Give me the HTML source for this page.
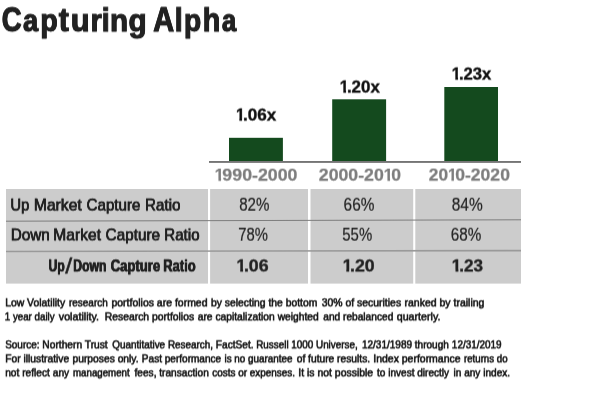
<!DOCTYPE html>
<html lang="en">
<head>
<meta charset="utf-8">
<title>Capturing Alpha</title>
<style>
html,body{margin:0;padding:0;background:#ffffff;}
body{width:600px;height:402px;position:relative;overflow:hidden;font-family:"Liberation Sans",sans-serif;}
#bg{position:absolute;left:0;top:0;width:600px;height:402px;display:block;}
.w{position:absolute;will-change:transform;transform-origin:0 0;}
.o{display:inline-block;}
.t{position:absolute;left:0;top:0;white-space:nowrap;line-height:1;margin:0;padding:0;transform-origin:0 0;}
</style>
</head>
<body>
<svg id="bg" width="600" height="402" viewBox="0 0 600 402">
<rect x="0" y="0" width="600" height="402" fill="#ffffff"/>
<rect x="229" y="137.8" width="53.9" height="24" fill="#144a1e"/>
<rect x="332.2" y="99.3" width="53.9" height="62.5" fill="#144a1e"/>
<rect x="444.3" y="87" width="53.7" height="75" fill="#144a1e"/>
<rect x="209" y="161" width="312" height="1.9" fill="#757575"/>
<rect x="6" y="189" width="515" height="94.6" fill="#cccccc"/>
<rect x="208" y="189" width="2.1" height="95" fill="#ffffff"/>
<rect x="308" y="189" width="2.5" height="95" fill="#ffffff"/>
<rect x="413.2" y="189" width="2.1" height="95" fill="#ffffff"/>
<line x1="6" y1="221.2" x2="521" y2="219.8" stroke="#7d7d7d" stroke-width="1"/>
<line x1="6" y1="251.5" x2="521" y2="250.6" stroke="#9a9a9a" stroke-width="1.6"/>
</svg>
<div id="title">
<div class="w" style="left:1px;top:1px;width:27px;height:44px;transform:translateY(0.30px) rotate(0.002deg);"><div class="t" style="font-size:35px;font-weight:700;color:#222222;-webkit-text-stroke:0.9px #222222;text-shadow:0.35px 0 0 #222222,-0.35px 0 0 #222222;transform:translateX(0.70px) scaleX(0.7883);">C</div></div>
<div class="w" style="left:23px;top:4px;width:22px;height:40px;transform:translateY(0.30px) rotate(0.002deg);"><div class="t" style="font-size:32px;font-weight:700;color:#222222;-webkit-text-stroke:0.9px #222222;text-shadow:0.35px 0 0 #222222,-0.35px 0 0 #222222;transform:translateX(0.08px) scaleX(0.8466);">a</div></div>
<div class="w" style="left:40px;top:4px;width:24px;height:40px;transform:translateY(0.30px) rotate(0.002deg);"><div class="t" style="font-size:32px;font-weight:700;color:#222222;-webkit-text-stroke:0.9px #222222;text-shadow:0.35px 0 0 #222222,-0.35px 0 0 #222222;transform:translateX(0.33px) scaleX(0.8914);">p</div></div>
<div class="w" style="left:58px;top:2px;width:17px;height:43px;transform:translateY(0.30px) rotate(0.002deg);"><div class="t" style="font-size:34px;font-weight:700;color:#222222;-webkit-text-stroke:0.9px #222222;text-shadow:0.35px 0 0 #222222,-0.35px 0 0 #222222;transform:translateX(0.84px) scaleX(0.8849);">t</div></div>
<div class="w" style="left:70px;top:4px;width:26px;height:40px;transform:translateY(0.30px) rotate(0.002deg);"><div class="t" style="font-size:32px;font-weight:700;color:#222222;-webkit-text-stroke:0.9px #222222;text-shadow:0.35px 0 0 #222222,-0.35px 0 0 #222222;transform:translateX(0.85px) scaleX(0.9676);">u</div></div>
<div class="w" style="left:90px;top:4px;width:18px;height:40px;transform:translateY(0.30px) rotate(0.002deg);"><div class="t" style="font-size:32px;font-weight:700;color:#222222;-webkit-text-stroke:0.9px #222222;text-shadow:0.35px 0 0 #222222,-0.35px 0 0 #222222;transform:translateX(0.62px) scaleX(0.8988);">r</div></div>
<div class="w" style="left:101px;top:3px;width:15px;height:42px;transform:translateY(0.30px) rotate(0.002deg);"><div class="t" style="font-size:33px;font-weight:700;color:#222222;-webkit-text-stroke:0.9px #222222;transform:translateX(0.49px) scaleX(0.9212);">i</div></div>
<div class="w" style="left:109px;top:4px;width:26px;height:40px;transform:translateY(0.30px) rotate(0.002deg);"><div class="t" style="font-size:32px;font-weight:700;color:#222222;-webkit-text-stroke:0.9px #222222;text-shadow:0.35px 0 0 #222222,-0.35px 0 0 #222222;transform:translateX(0.99px) scaleX(0.9265);">n</div></div>
<div class="w" style="left:128px;top:4px;width:25px;height:40px;transform:translateY(0.30px) rotate(0.002deg);"><div class="t" style="font-size:32px;font-weight:700;color:#222222;-webkit-text-stroke:0.9px #222222;text-shadow:0.35px 0 0 #222222,-0.35px 0 0 #222222;transform:translateX(0.52px) scaleX(0.9325);">g</div></div>
<div class="w" style="left:153px;top:1px;width:28px;height:44px;transform:translateY(0.30px) rotate(0.002deg);"><div class="t" style="font-size:35px;font-weight:700;color:#222222;-webkit-text-stroke:0.9px #222222;text-shadow:0.35px 0 0 #222222,-0.35px 0 0 #222222;transform:translateX(0.14px) scaleX(0.8293);">A</div></div>
<div class="w" style="left:174px;top:3px;width:15px;height:42px;transform:translateY(0.30px) rotate(0.002deg);"><div class="t" style="font-size:33px;font-weight:700;color:#222222;-webkit-text-stroke:0.9px #222222;transform:translateX(0.49px) scaleX(0.9212);">l</div></div>
<div class="w" style="left:183px;top:4px;width:25px;height:40px;transform:translateY(0.30px) rotate(0.002deg);"><div class="t" style="font-size:32px;font-weight:700;color:#222222;-webkit-text-stroke:0.9px #222222;text-shadow:0.35px 0 0 #222222,-0.35px 0 0 #222222;transform:translateX(0.95px) scaleX(0.8801);">p</div></div>
<div class="w" style="left:202px;top:3px;width:25px;height:42px;transform:translateY(0.30px) rotate(0.002deg);"><div class="t" style="font-size:33px;font-weight:700;color:#222222;-webkit-text-stroke:0.9px #222222;text-shadow:0.35px 0 0 #222222,-0.35px 0 0 #222222;transform:translateX(0.69px) scaleX(0.8732);">h</div></div>
<div class="w" style="left:221px;top:4px;width:22px;height:40px;transform:translateY(0.30px) rotate(0.002deg);"><div class="t" style="font-size:32px;font-weight:700;color:#222222;-webkit-text-stroke:0.9px #222222;text-shadow:0.35px 0 0 #222222,-0.35px 0 0 #222222;transform:translateX(0.89px) scaleX(0.8038);">a</div></div>
</div>
<div id="chart">
<div class="w" style="left:235px;top:106px;width:16px;height:21px;transform:translateY(0.55px) rotate(0.002deg);"><div class="t" style="font-size:16.5px;font-weight:700;color:#111111;-webkit-text-stroke:0.38px #111111;transform:translateX(0.89px) scaleX(0.9689);"><span class="o" style="clip-path:polygon(-1px -2px,110% -2px,110% 12px,calc(0.3706em + 0.24px) 12px,calc(0.3706em + 0.24px) 16px,calc(0.2334em - 0.24px) 16px,calc(0.2334em - 0.24px) 12px,-1px 12px);">1</span></div></div>
<div class="w" style="left:242px;top:106px;width:41px;height:21px;transform:translateY(0.55px) rotate(0.002deg);"><div class="t" style="font-size:16.5px;font-weight:700;color:#111111;-webkit-text-stroke:0.38px #111111;transform:translateX(0.92px) scaleX(1.0362);">.06x</div></div>
<div class="w" style="left:339px;top:78px;width:16px;height:21px;transform:translateY(0.55px) rotate(0.002deg);"><div class="t" style="font-size:16.5px;font-weight:700;color:#111111;-webkit-text-stroke:0.38px #111111;transform:translateX(0.83px) scaleX(0.9782);"><span class="o" style="clip-path:polygon(-1px -2px,110% -2px,110% 12px,calc(0.3706em + 0.24px) 12px,calc(0.3706em + 0.24px) 16px,calc(0.2334em - 0.24px) 16px,calc(0.2334em - 0.24px) 12px,-1px 12px);">1</span></div></div>
<div class="w" style="left:346px;top:78px;width:40px;height:21px;transform:translateY(0.55px) rotate(0.002deg);"><div class="t" style="font-size:16.5px;font-weight:700;color:#111111;-webkit-text-stroke:0.38px #111111;transform:translateX(0.92px) scaleX(1.0241);">.20x</div></div>
<div class="w" style="left:451px;top:65px;width:16px;height:21px;transform:translateY(0.55px) rotate(0.002deg);"><div class="t" style="font-size:16.5px;font-weight:700;color:#111111;-webkit-text-stroke:0.38px #111111;transform:translateX(0.83px) scaleX(0.9782);"><span class="o" style="clip-path:polygon(-1px -2px,110% -2px,110% 12px,calc(0.3706em + 0.24px) 12px,calc(0.3706em + 0.24px) 16px,calc(0.2334em - 0.24px) 16px,calc(0.2334em - 0.24px) 12px,-1px 12px);">1</span></div></div>
<div class="w" style="left:458px;top:65px;width:40px;height:21px;transform:translateY(0.55px) rotate(0.002deg);"><div class="t" style="font-size:16.5px;font-weight:700;color:#111111;-webkit-text-stroke:0.38px #111111;transform:translateX(0.92px) scaleX(1.0103);">.23x</div></div>
<div class="w" style="left:214px;top:166px;width:16px;height:21px;transform:translateY(0.65px) rotate(0.002deg);"><div class="t" style="font-size:16.5px;font-weight:700;color:#7e7e7e;-webkit-text-stroke:0.25px #7e7e7e;transform:translateX(0.74px) scaleX(1.0025);"><span class="o" style="clip-path:polygon(-1px -2px,110% -2px,110% 12px,calc(0.3706em + 0.17px) 12px,calc(0.3706em + 0.17px) 16px,calc(0.2334em - 0.17px) 16px,calc(0.2334em - 0.17px) 12px,-1px 12px);">1</span></div></div>
<div class="w" style="left:222px;top:166px;width:82px;height:21px;transform:translateY(0.65px) rotate(0.002deg);"><div class="t" style="font-size:16.5px;font-weight:700;color:#7e7e7e;-webkit-text-stroke:0.25px #7e7e7e;transform:translateX(0.37px) scaleX(1.0773);">990-2000</div></div>
<div class="w" style="left:318px;top:166px;width:72px;height:21px;transform:translateY(0.65px) rotate(0.002deg);"><div class="t" style="font-size:16.5px;font-weight:700;color:#7e7e7e;-webkit-text-stroke:0.25px #7e7e7e;transform:translateX(0.83px) scaleX(1.0730);">2000-20</div></div>
<div class="w" style="left:383px;top:166px;width:16px;height:21px;transform:translateY(0.65px) rotate(0.002deg);"><div class="t" style="font-size:16.5px;font-weight:700;color:#7e7e7e;-webkit-text-stroke:0.25px #7e7e7e;transform:translateX(0.74px) scaleX(1.0025);"><span class="o" style="clip-path:polygon(-1px -2px,110% -2px,110% 12px,calc(0.3706em + 0.17px) 12px,calc(0.3706em + 0.17px) 16px,calc(0.2334em - 0.17px) 16px,calc(0.2334em - 0.17px) 12px,-1px 12px);">1</span></div></div>
<div class="w" style="left:391px;top:166px;width:17px;height:21px;transform:translateY(0.65px) rotate(0.002deg);"><div class="t" style="font-size:16.5px;font-weight:700;color:#7e7e7e;-webkit-text-stroke:0.25px #7e7e7e;transform:translateX(0.34px) scaleX(1.0621);">0</div></div>
<div class="w" style="left:428px;top:166px;width:27px;height:21px;transform:translateY(0.55px) rotate(0.002deg);"><div class="t" style="font-size:16.5px;font-weight:700;color:#7e7e7e;-webkit-text-stroke:0.25px #7e7e7e;transform:translateX(0.83px) scaleX(1.0477);">20</div></div>
<div class="w" style="left:447px;top:166px;width:16px;height:21px;transform:translateY(0.55px) rotate(0.002deg);"><div class="t" style="font-size:16.5px;font-weight:700;color:#7e7e7e;-webkit-text-stroke:0.25px #7e7e7e;transform:translateX(0.88px) scaleX(0.9643);"><span class="o" style="clip-path:polygon(-1px -2px,110% -2px,110% 12px,calc(0.3706em + 0.17px) 12px,calc(0.3706em + 0.17px) 16px,calc(0.2334em - 0.17px) 16px,calc(0.2334em - 0.17px) 12px,-1px 12px);">1</span></div></div>
<div class="w" style="left:455px;top:166px;width:61px;height:21px;transform:translateY(0.55px) rotate(0.002deg);"><div class="t" style="font-size:16.5px;font-weight:700;color:#7e7e7e;-webkit-text-stroke:0.25px #7e7e7e;transform:translateX(0.21px) scaleX(1.0645);">0-2020</div></div>
</div>
<div id="table">
<div class="w" style="left:10px;top:196px;width:26px;height:22px;transform:translateY(0.60px) rotate(0.002deg);"><div class="t" style="font-size:17px;font-weight:400;color:#222222;-webkit-text-stroke:0.5px #222222;text-shadow:0.15px 0 0 #222222,-0.15px 0 0 #222222;transform:translateX(0.47px) scaleX(0.8673);">Up</div></div>
<div class="w" style="left:33px;top:196px;width:55px;height:22px;transform:translateY(0.60px) rotate(0.002deg);"><div class="t" style="font-size:17px;font-weight:400;color:#222222;-webkit-text-stroke:0.5px #222222;text-shadow:0.15px 0 0 #222222,-0.15px 0 0 #222222;transform:translateX(0.85px) scaleX(0.9217);">Market</div></div>
<div class="w" style="left:86px;top:196px;width:61px;height:22px;transform:translateY(0.60px) rotate(0.002deg);"><div class="t" style="font-size:17px;font-weight:400;color:#222222;-webkit-text-stroke:0.5px #222222;text-shadow:0.15px 0 0 #222222,-0.15px 0 0 #222222;transform:translateX(0.61px) scaleX(0.8893);">Capture</div></div>
<div class="w" style="left:144px;top:196px;width:43px;height:22px;transform:translateY(0.60px) rotate(0.002deg);"><div class="t" style="font-size:17px;font-weight:400;color:#222222;-webkit-text-stroke:0.5px #222222;text-shadow:0.15px 0 0 #222222,-0.15px 0 0 #222222;transform:translateX(0.97px) scaleX(0.8949);">Ratio</div></div>
<div class="w" style="left:239px;top:196px;width:37px;height:22px;transform:translateY(0.70px) rotate(0.002deg);"><div class="t" style="font-size:17.5px;font-weight:400;color:#222222;-webkit-text-stroke:0.2px #222222;transform:translateX(0.22px) scaleX(0.8631);">82%</div></div>
<div class="w" style="left:343px;top:196px;width:38px;height:22px;transform:translateY(0.70px) rotate(0.002deg);"><div class="t" style="font-size:17.5px;font-weight:400;color:#222222;-webkit-text-stroke:0.2px #222222;transform:translateX(0.60px) scaleX(0.8790);">66%</div></div>
<div class="w" style="left:451px;top:196px;width:38px;height:22px;transform:translateY(0.70px) rotate(0.002deg);"><div class="t" style="font-size:17.5px;font-weight:400;color:#222222;-webkit-text-stroke:0.2px #222222;transform:translateX(0.72px) scaleX(0.8837);">84%</div></div>
<div class="w" style="left:10px;top:226px;width:46px;height:22px;transform:translateY(0.45px) rotate(0.002deg);"><div class="t" style="font-size:17px;font-weight:400;color:#222222;-webkit-text-stroke:0.5px #222222;text-shadow:0.15px 0 0 #222222,-0.15px 0 0 #222222;transform:translateX(0.77px) scaleX(0.8977);">Down</div></div>
<div class="w" style="left:53px;top:226px;width:55px;height:22px;transform:translateY(0.45px) rotate(0.002deg);"><div class="t" style="font-size:17px;font-weight:400;color:#222222;-webkit-text-stroke:0.5px #222222;text-shadow:0.15px 0 0 #222222,-0.15px 0 0 #222222;transform:translateX(0.16px) scaleX(0.9217);">Market</div></div>
<div class="w" style="left:105px;top:226px;width:62px;height:22px;transform:translateY(0.45px) rotate(0.002deg);"><div class="t" style="font-size:17px;font-weight:400;color:#222222;-webkit-text-stroke:0.5px #222222;text-shadow:0.15px 0 0 #222222,-0.15px 0 0 #222222;transform:translateX(0.61px) scaleX(0.9013);">Capture</div></div>
<div class="w" style="left:164px;top:226px;width:42px;height:22px;transform:translateY(0.45px) rotate(0.002deg);"><div class="t" style="font-size:17px;font-weight:400;color:#222222;-webkit-text-stroke:0.5px #222222;text-shadow:0.15px 0 0 #222222,-0.15px 0 0 #222222;transform:translateX(0.17px) scaleX(0.8935);">Ratio</div></div>
<div class="w" style="left:238px;top:226px;width:36px;height:22px;transform:translateY(0.70px) rotate(0.002deg);"><div class="t" style="font-size:17.5px;font-weight:400;color:#222222;-webkit-text-stroke:0.2px #222222;transform:translateX(0.30px) scaleX(0.8457);">78%</div></div>
<div class="w" style="left:342px;top:226px;width:37px;height:22px;transform:translateY(0.70px) rotate(0.002deg);"><div class="t" style="font-size:17.5px;font-weight:400;color:#222222;-webkit-text-stroke:0.2px #222222;transform:translateX(0.33px) scaleX(0.8520);">55%</div></div>
<div class="w" style="left:450px;top:226px;width:38px;height:22px;transform:translateY(0.70px) rotate(0.002deg);"><div class="t" style="font-size:17.5px;font-weight:400;color:#222222;-webkit-text-stroke:0.2px #222222;transform:translateX(0.79px) scaleX(0.8711);">68%</div></div>
<div class="w" style="left:48px;top:257px;width:23px;height:22px;transform:translateY(0.45px) rotate(0.002deg);"><div class="t" style="font-size:17px;font-weight:700;color:#222222;-webkit-text-stroke:0.5px #222222;text-shadow:0.25px 0 0 #222222,-0.25px 0 0 #222222;transform:translateX(0.61px) scaleX(0.7135);">Up</div></div>
<div class="w" style="left:65px;top:255px;width:14px;height:28px;transform:translateY(0.50px) rotate(0.002deg);"><div class="t" style="font-size:22px;font-weight:400;color:#222222;-webkit-text-stroke:0.5px #222222;transform:translateX(0.28px) scaleX(1.1342);">/</div></div>
<div class="w" style="left:73px;top:257px;width:40px;height:22px;transform:translateY(0.45px) rotate(0.002deg);"><div class="t" style="font-size:17px;font-weight:700;color:#222222;-webkit-text-stroke:0.5px #222222;text-shadow:0.25px 0 0 #222222,-0.25px 0 0 #222222;transform:translateX(0.26px) scaleX(0.7182);">Down</div></div>
<div class="w" style="left:110px;top:257px;width:57px;height:22px;transform:translateY(0.45px) rotate(0.002deg);"><div class="t" style="font-size:17px;font-weight:700;color:#222222;-webkit-text-stroke:0.5px #222222;text-shadow:0.25px 0 0 #222222,-0.25px 0 0 #222222;transform:translateX(0.64px) scaleX(0.7716);">Capture</div></div>
<div class="w" style="left:163px;top:257px;width:39px;height:22px;transform:translateY(0.45px) rotate(0.002deg);"><div class="t" style="font-size:17px;font-weight:700;color:#222222;-webkit-text-stroke:0.5px #222222;text-shadow:0.25px 0 0 #222222,-0.25px 0 0 #222222;transform:translateX(0.26px) scaleX(0.7624);">Ratio</div></div>
<div class="w" style="left:236px;top:257px;width:16px;height:22px;transform:translateY(0.45px) rotate(0.002deg);"><div class="t" style="font-size:17px;font-weight:700;color:#222222;-webkit-text-stroke:0.38px #222222;transform:translateX(0.53px) scaleX(0.9967);"><span class="o" style="clip-path:polygon(-1px -2px,110% -2px,110% 12px,calc(0.3706em + 0.24px) 12px,calc(0.3706em + 0.24px) 16px,calc(0.2334em - 0.24px) 16px,calc(0.2334em - 0.24px) 12px,-1px 12px);">1</span></div></div>
<div class="w" style="left:243px;top:257px;width:32px;height:22px;transform:translateY(0.45px) rotate(0.002deg);"><div class="t" style="font-size:17px;font-weight:700;color:#222222;-webkit-text-stroke:0.38px #222222;transform:translateX(0.92px) scaleX(1.0442);">.06</div></div>
<div class="w" style="left:342px;top:257px;width:17px;height:22px;transform:translateY(0.45px) rotate(0.002deg);"><div class="t" style="font-size:17px;font-weight:700;color:#222222;-webkit-text-stroke:0.38px #222222;transform:translateX(0.63px) scaleX(0.9967);"><span class="o" style="clip-path:polygon(-1px -2px,110% -2px,110% 12px,calc(0.3706em + 0.24px) 12px,calc(0.3706em + 0.24px) 16px,calc(0.2334em - 0.24px) 16px,calc(0.2334em - 0.24px) 12px,-1px 12px);">1</span></div></div>
<div class="w" style="left:350px;top:257px;width:31px;height:22px;transform:translateY(0.45px) rotate(0.002deg);"><div class="t" style="font-size:17px;font-weight:700;color:#222222;-webkit-text-stroke:0.38px #222222;transform:translateX(0.02px) scaleX(1.0419);">.20</div></div>
<div class="w" style="left:451px;top:257px;width:17px;height:22px;transform:translateY(0.45px) rotate(0.002deg);"><div class="t" style="font-size:17px;font-weight:700;color:#222222;-webkit-text-stroke:0.38px #222222;transform:translateX(0.83px) scaleX(0.9967);"><span class="o" style="clip-path:polygon(-1px -2px,110% -2px,110% 12px,calc(0.3706em + 0.24px) 12px,calc(0.3706em + 0.24px) 16px,calc(0.2334em - 0.24px) 16px,calc(0.2334em - 0.24px) 12px,-1px 12px);">1</span></div></div>
<div class="w" style="left:459px;top:257px;width:31px;height:22px;transform:translateY(0.45px) rotate(0.002deg);"><div class="t" style="font-size:17px;font-weight:700;color:#222222;-webkit-text-stroke:0.38px #222222;transform:translateX(0.33px) scaleX(1.0065);">.23</div></div>
</div>
<div id="notes">
<div class="w" style="left:5px;top:296px;width:67px;height:15px;transform:translateY(0.40px) rotate(0.002deg);"><div class="t" style="font-size:11.6px;font-weight:400;color:#111111;-webkit-text-stroke:0.6px #111111;transform:translateX(0.21px) scaleX(0.8943);">Low Volatility</div></div>
<div class="w" style="left:68px;top:296px;width:46px;height:15px;transform:translateY(0.40px) rotate(0.002deg);"><div class="t" style="font-size:11.6px;font-weight:400;color:#111111;-webkit-text-stroke:0.6px #111111;transform:translateX(0.98px) scaleX(0.8599);">research</div></div>
<div class="w" style="left:111px;top:296px;width:103px;height:15px;transform:translateY(0.40px) rotate(0.002deg);"><div class="t" style="font-size:11.6px;font-weight:400;color:#111111;-webkit-text-stroke:0.6px #111111;transform:translateX(0.48px) scaleX(0.9030);">portfolios are formed</div></div>
<div class="w" style="left:211px;top:296px;width:113px;height:15px;transform:translateY(0.40px) rotate(0.002deg);"><div class="t" style="font-size:11.6px;font-weight:400;color:#111111;-webkit-text-stroke:0.6px #111111;transform:translateX(0.03px) scaleX(0.8914);">by selecting the bottom</div></div>
<div class="w" style="left:321px;top:296px;width:87px;height:15px;transform:translateY(0.40px) rotate(0.002deg);"><div class="t" style="font-size:11.6px;font-weight:400;color:#111111;-webkit-text-stroke:0.6px #111111;transform:translateX(0.67px) scaleX(0.8998);">30% of securities</div></div>
<div class="w" style="left:404px;top:296px;width:87px;height:15px;transform:translateY(0.40px) rotate(0.002deg);"><div class="t" style="font-size:11.6px;font-weight:400;color:#111111;-webkit-text-stroke:0.6px #111111;transform:translateX(0.48px) scaleX(0.9055);">ranked by trailing</div></div>
<div class="w" style="left:4px;top:310px;width:57px;height:15px;transform:translateY(0.40px) rotate(0.002deg);"><div class="t" style="font-size:11.6px;font-weight:400;color:#111111;-webkit-text-stroke:0.6px #111111;transform:translateX(0.81px) scaleX(0.8395);">1 year daily</div></div>
<div class="w" style="left:58px;top:310px;width:48px;height:15px;transform:translateY(0.40px) rotate(0.002deg);"><div class="t" style="font-size:11.6px;font-weight:400;color:#111111;-webkit-text-stroke:0.6px #111111;transform:translateX(0.77px) scaleX(0.9250);">volatility.</div></div>
<div class="w" style="left:104px;top:310px;width:97px;height:15px;transform:translateY(0.40px) rotate(0.002deg);"><div class="t" style="font-size:11.6px;font-weight:400;color:#111111;-webkit-text-stroke:0.6px #111111;transform:translateX(0.71px) scaleX(0.8950);">Research portfolios</div></div>
<div class="w" style="left:197px;top:310px;width:128px;height:15px;transform:translateY(0.40px) rotate(0.002deg);"><div class="t" style="font-size:11.6px;font-weight:400;color:#111111;-webkit-text-stroke:0.6px #111111;transform:translateX(0.71px) scaleX(0.8860);">are capitalization weighted</div></div>
<div class="w" style="left:323px;top:310px;width:77px;height:15px;transform:translateY(0.40px) rotate(0.002deg);"><div class="t" style="font-size:11.6px;font-weight:400;color:#111111;-webkit-text-stroke:0.6px #111111;transform:translateX(0.25px) scaleX(0.8765);">and rebalanced</div></div>
<div class="w" style="left:396px;top:310px;width:51px;height:15px;transform:translateY(0.40px) rotate(0.002deg);"><div class="t" style="font-size:11.6px;font-weight:400;color:#111111;-webkit-text-stroke:0.6px #111111;transform:translateX(0.71px) scaleX(0.9201);">quarterly.</div></div>
<div class="w" style="left:5px;top:338px;width:41px;height:15px;transform:translateY(0.40px) rotate(0.002deg);"><div class="t" style="font-size:11.6px;font-weight:400;color:#111111;-webkit-text-stroke:0.6px #111111;transform:translateX(0.15px) scaleX(0.8620);">Source:</div></div>
<div class="w" style="left:42px;top:338px;width:72px;height:15px;transform:translateY(0.40px) rotate(0.002deg);"><div class="t" style="font-size:11.6px;font-weight:400;color:#111111;-webkit-text-stroke:0.6px #111111;transform:translateX(0.37px) scaleX(0.8816);">Northern Trust</div></div>
<div class="w" style="left:112px;top:338px;width:108px;height:15px;transform:translateY(0.40px) rotate(0.002deg);"><div class="t" style="font-size:11.6px;font-weight:400;color:#111111;-webkit-text-stroke:0.6px #111111;transform:translateX(0.21px) scaleX(0.8555);">Quantitative Research,</div></div>
<div class="w" style="left:215px;top:338px;width:45px;height:15px;transform:translateY(0.40px) rotate(0.002deg);"><div class="t" style="font-size:11.6px;font-weight:400;color:#111111;-webkit-text-stroke:0.6px #111111;transform:translateX(0.87px) scaleX(0.8741);">FactSet.</div></div>
<div class="w" style="left:256px;top:338px;width:108px;height:15px;transform:translateY(0.40px) rotate(0.002deg);"><div class="t" style="font-size:11.6px;font-weight:400;color:#111111;-webkit-text-stroke:0.6px #111111;transform:translateX(0.22px) scaleX(0.8510);">Russell 1000 Universe,</div></div>
<div class="w" style="left:361px;top:338px;width:94px;height:15px;transform:translateY(0.40px) rotate(0.002deg);"><div class="t" style="font-size:11.6px;font-weight:400;color:#111111;-webkit-text-stroke:0.6px #111111;transform:translateX(0.92px) scaleX(0.8640);">12/31/1989 through</div></div>
<div class="w" style="left:451px;top:338px;width:57px;height:15px;transform:translateY(0.40px) rotate(0.002deg);"><div class="t" style="font-size:11.6px;font-weight:400;color:#111111;-webkit-text-stroke:0.6px #111111;transform:translateX(0.87px) scaleX(0.8579);">12/31/2019</div></div>
<div class="w" style="left:5px;top:352px;width:71px;height:15px;transform:translateY(0.40px) rotate(0.002deg);"><div class="t" style="font-size:11.6px;font-weight:400;color:#111111;-webkit-text-stroke:0.6px #111111;transform:translateX(0.21px) scaleX(0.8871);">For illustrative</div></div>
<div class="w" style="left:72px;top:352px;width:73px;height:15px;transform:translateY(0.40px) rotate(0.002deg);"><div class="t" style="font-size:11.6px;font-weight:400;color:#111111;-webkit-text-stroke:0.6px #111111;transform:translateX(0.48px) scaleX(0.8870);">purposes only.</div></div>
<div class="w" style="left:141px;top:352px;width:87px;height:15px;transform:translateY(0.40px) rotate(0.002deg);"><div class="t" style="font-size:11.6px;font-weight:400;color:#111111;-webkit-text-stroke:0.6px #111111;transform:translateX(0.87px) scaleX(0.8664);">Past performance</div></div>
<div class="w" style="left:224px;top:352px;width:75px;height:15px;transform:translateY(0.40px) rotate(0.002deg);"><div class="t" style="font-size:11.6px;font-weight:400;color:#111111;-webkit-text-stroke:0.6px #111111;transform:translateX(0.48px) scaleX(0.8514);">is no guarantee</div></div>
<div class="w" style="left:296px;top:352px;width:81px;height:15px;transform:translateY(0.40px) rotate(0.002deg);"><div class="t" style="font-size:11.6px;font-weight:400;color:#111111;-webkit-text-stroke:0.6px #111111;transform:translateX(0.71px) scaleX(0.8828);">of future results.</div></div>
<div class="w" style="left:373px;top:352px;width:94px;height:15px;transform:translateY(0.40px) rotate(0.002deg);"><div class="t" style="font-size:11.6px;font-weight:400;color:#111111;-webkit-text-stroke:0.6px #111111;transform:translateX(0.26px) scaleX(0.9029);">Index performance</div></div>
<div class="w" style="left:463px;top:352px;width:51px;height:15px;transform:translateY(0.40px) rotate(0.002deg);"><div class="t" style="font-size:11.6px;font-weight:400;color:#111111;-webkit-text-stroke:0.6px #111111;transform:translateX(0.98px) scaleX(0.8345);">returns do</div></div>
<div class="w" style="left:5px;top:366px;width:71px;height:15px;transform:translateY(0.40px) rotate(0.002deg);"><div class="t" style="font-size:11.6px;font-weight:400;color:#111111;-webkit-text-stroke:0.6px #111111;transform:translateX(0.13px) scaleX(0.8796);">not reflect any</div></div>
<div class="w" style="left:72px;top:366px;width:64px;height:15px;transform:translateY(0.40px) rotate(0.002deg);"><div class="t" style="font-size:11.6px;font-weight:400;color:#111111;-webkit-text-stroke:0.6px #111111;transform:translateX(0.98px) scaleX(0.8382);">management</div></div>
<div class="w" style="left:134px;top:366px;width:81px;height:15px;transform:translateY(0.40px) rotate(0.002deg);"><div class="t" style="font-size:11.6px;font-weight:400;color:#111111;-webkit-text-stroke:0.6px #111111;transform:translateX(0.55px) scaleX(0.8724);">fees, transaction</div></div>
<div class="w" style="left:212px;top:366px;width:90px;height:15px;transform:translateY(0.40px) rotate(0.002deg);"><div class="t" style="font-size:11.6px;font-weight:400;color:#111111;-webkit-text-stroke:0.6px #111111;transform:translateX(0.21px) scaleX(0.8575);">costs or expenses.</div></div>
<div class="w" style="left:298px;top:366px;width:82px;height:15px;transform:translateY(0.40px) rotate(0.002deg);"><div class="t" style="font-size:11.6px;font-weight:400;color:#111111;-webkit-text-stroke:0.6px #111111;transform:translateX(0.26px) scaleX(0.9009);">It is not possible</div></div>
<div class="w" style="left:377px;top:366px;width:79px;height:15px;transform:translateY(0.40px) rotate(0.002deg);"><div class="t" style="font-size:11.6px;font-weight:400;color:#111111;-webkit-text-stroke:0.6px #111111;transform:translateX(0.04px) scaleX(0.8668);">to invest directly</div></div>
<div class="w" style="left:453px;top:366px;width:64px;height:15px;transform:translateY(0.40px) rotate(0.002deg);"><div class="t" style="font-size:11.6px;font-weight:400;color:#111111;-webkit-text-stroke:0.6px #111111;transform:translateX(0.48px) scaleX(0.8697);">in any index.</div></div>
</div>
</body>
</html>
